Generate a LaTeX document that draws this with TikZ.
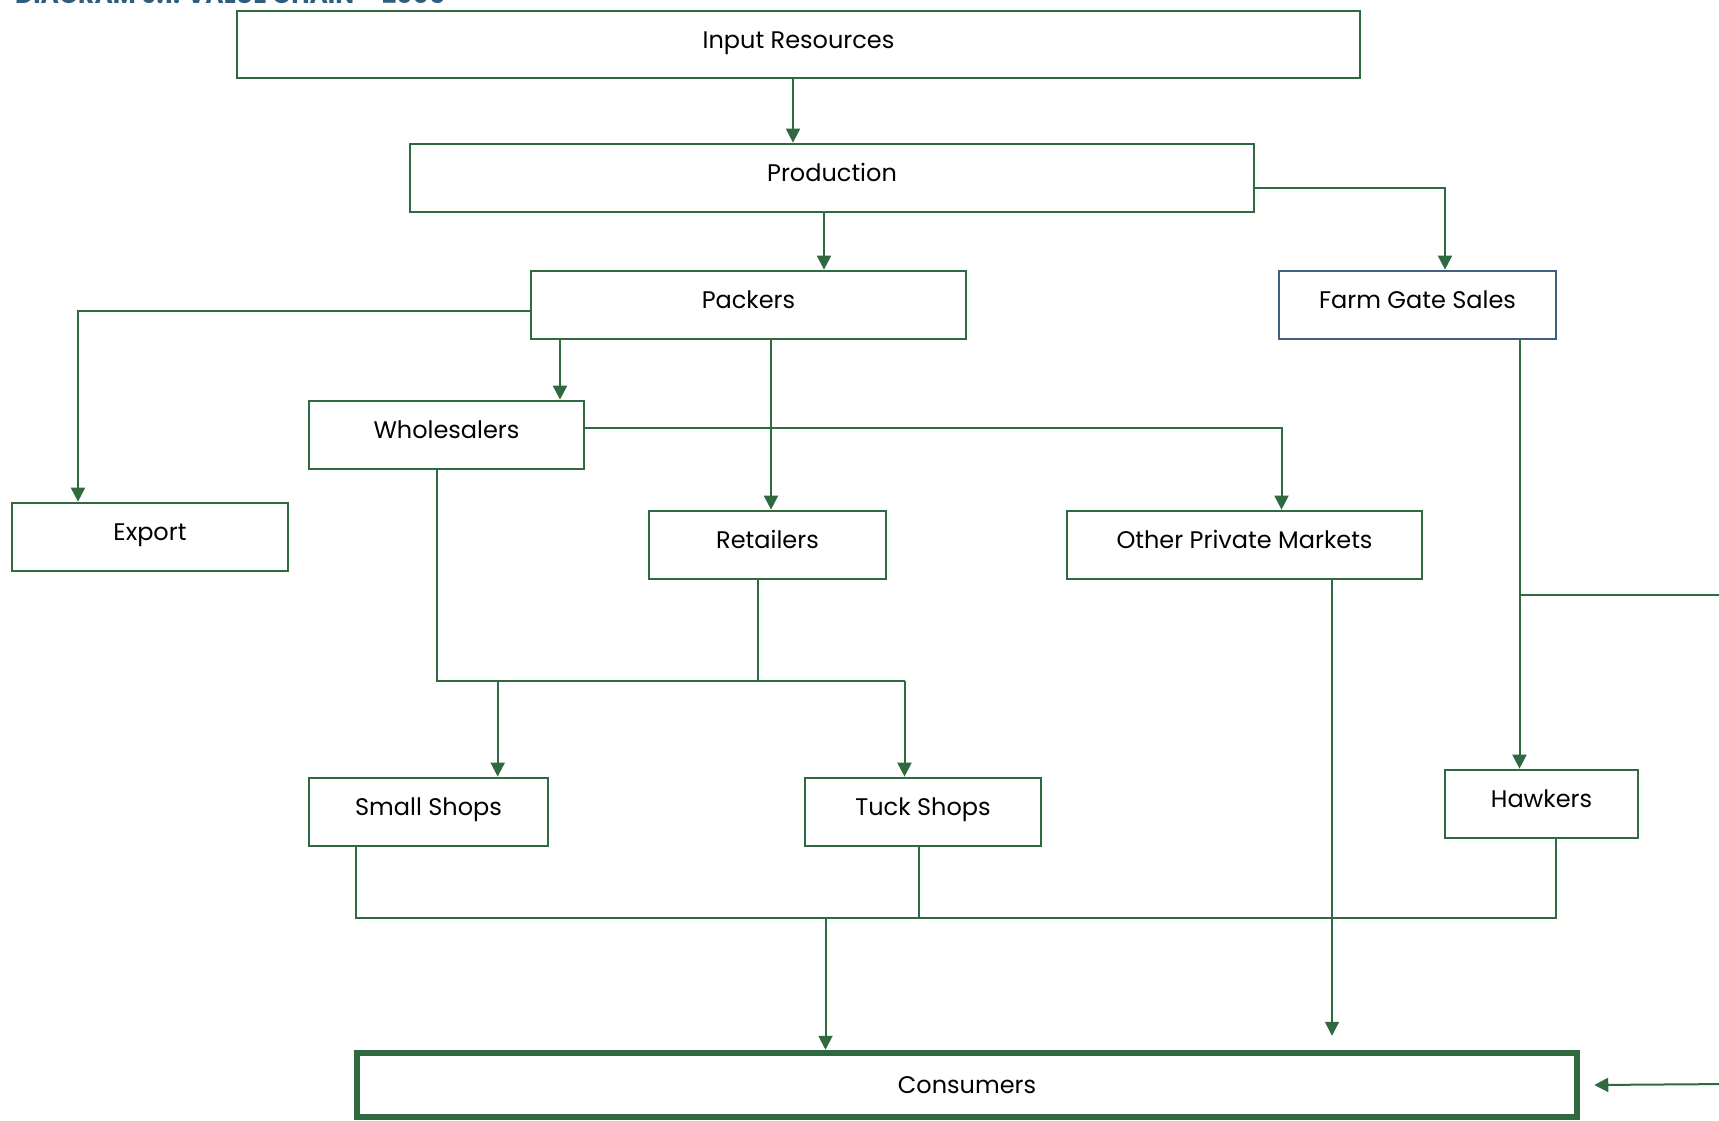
\documentclass[tikz,border=0pt]{standalone}
\usepackage{fontspec}
\setmainfont{Poppins}
\usetikzlibrary{arrows.meta}

\definecolor{dgreen}{RGB}{48,105,64}
\definecolor{slate}{RGB}{65,96,128}
\definecolor{titleblue}{RGB}{47,93,124}

\tikzset{
  box/.style={draw=dgreen, line width=2.7pt, inner sep=0pt, fill=white,
    text height=18pt, text depth=11pt, font=\fontsize{24}{28}\selectfont},
  ln/.style={draw=dgreen, line width=2pt},
  arr/.style={draw=dgreen, line width=2pt,
    -{Triangle[length=14pt,width=14pt]}},
}

\begin{document}
\begin{tikzpicture}[x=1pt, y=-1pt]
\useasboundingbox (0,0) rectangle (1719,1120);
\clip (0,0) rectangle (1719,1120);

% heading, cut off by the top edge
\node[anchor=base west, inner sep=0pt, text=titleblue,
  font=\bfseries\fontsize{25}{28}\selectfont] (title) at (15,3.5) {DIAGRAM 9.1: VALUE CHAIN -- 2005};

% boxes
\node[box, minimum width=1123pt, minimum height=67pt] (in)     at (798.5,44.5) {Input Resources};
\node[box, minimum width=844pt,  minimum height=68pt] (prod)   at (832,178)    {Production};
\node[box, minimum width=435pt,  minimum height=68pt] (pack)   at (748.5,305)  {Packers};
\node[box, draw=slate, minimum width=277pt, minimum height=68pt] (farm) at (1417.5,305) {Farm Gate Sales};
\node[box, minimum width=275pt,  minimum height=68pt] (whole)  at (446.5,435)  {Wholesalers};
\node[box, minimum width=276pt,  minimum height=68pt] (export) at (150,537)    {Export};
\node[box, minimum width=237pt,  minimum height=68pt] (retail) at (767.5,545)  {Retailers};
\node[box, minimum width=355pt,  minimum height=68pt] (other)  at (1244.5,545) {Other Private Markets};
\node[box, minimum width=239pt,  minimum height=68pt] (small)  at (428.5,812)  {Small Shops};
\node[box, minimum width=236pt,  minimum height=68pt] (tuck)   at (923,812)    {Tuck Shops};
\node[box, minimum width=193pt,  minimum height=68pt] (hawk)   at (1541.5,804) {Hawkers};
\node[box, line width=6.5pt, text height=17pt, text depth=0pt,
      minimum width=1220pt, minimum height=64pt] (cons) at (967,1085) {Consumers};

% input resources -> production -> packers
\coordinate (a1) at ([xshift=-5.5pt]in.south);
\draw[arr] (a1) -- (a1 |- prod.north);
\coordinate (a2) at ([xshift=-8pt]prod.south);
\draw[arr] (a2) -- (a2 |- pack.north);

% production -> farm gate sales
\draw[arr] ([yshift=-9.5pt]prod.east) -| ([xshift=27.5pt]farm.north);

% packers -> export, wholesalers, retailers
\draw[arr] ([yshift=-6pt]pack.west) -| ([xshift=-72pt]export.north);
\coordinate (a3) at ([xshift=-188.5pt]pack.south);
\draw[arr] (a3) -- (a3 |- whole.north);
\coordinate (a4) at ([xshift=22.5pt]pack.south);
\draw[arr] (a4) -- (a4 |- retail.north);

% wholesalers -> other private markets
\draw[arr] ([yshift=7.5pt]whole.east) -| ([xshift=37pt]other.north);

% wholesalers and retailers -> small shops and tuck shops
\coordinate (jL) at (437,681);
\coordinate (jS) at (497.7,681);
\coordinate (jT) at (904.5,681);
\draw[ln] (jL |- whole.south) -- (jL) -- (jT);
\coordinate (rx) at ([xshift=-10pt]retail.south);
\draw[ln] (rx) -- (rx |- jT);
\draw[arr] (jS) -- (jS |- small.north);
\draw[arr] (jT) -- (jT |- tuck.north);

% farm gate sales -> hawkers, with a branch leaving on the right
\coordinate (fx) at ([xshift=102pt]farm.south);
\draw[arr] (fx) -- (fx |- hawk.north);
\coordinate (fb) at (fx |- 0,595);
\coordinate (fr) at (1730,595);
\draw[ln] (fb) -- (fr);

% the branch coming back into consumers
\coordinate (cr) at (1730,1084);
\draw[arr] (cr) -- ([xshift=14pt]cons.east);

% shops and hawkers -> consumers
\coordinate (bus) at (0,917.6);
\coordinate (sx) at ([xshift=-72.5pt]small.south);
\coordinate (tx) at ([xshift=-4.3pt]tuck.south);
\coordinate (hx) at ([xshift=14pt]hawk.south);
\draw[ln] (sx) -- (sx |- bus) -- (hx |- bus) -- (hx);
\draw[ln] (tx) -- (tx |- bus);
\coordinate (cx) at ([xshift=-141.5pt]cons.north);
\draw[arr] (cx |- bus) -- (cx);

% other private markets -> consumers
\coordinate (ox) at ([xshift=87.5pt]other.south);
\coordinate (ctop) at ([yshift=14pt]cons.north);
\draw[arr] (ox) -- (ox |- ctop);
\end{tikzpicture}
\end{document}
